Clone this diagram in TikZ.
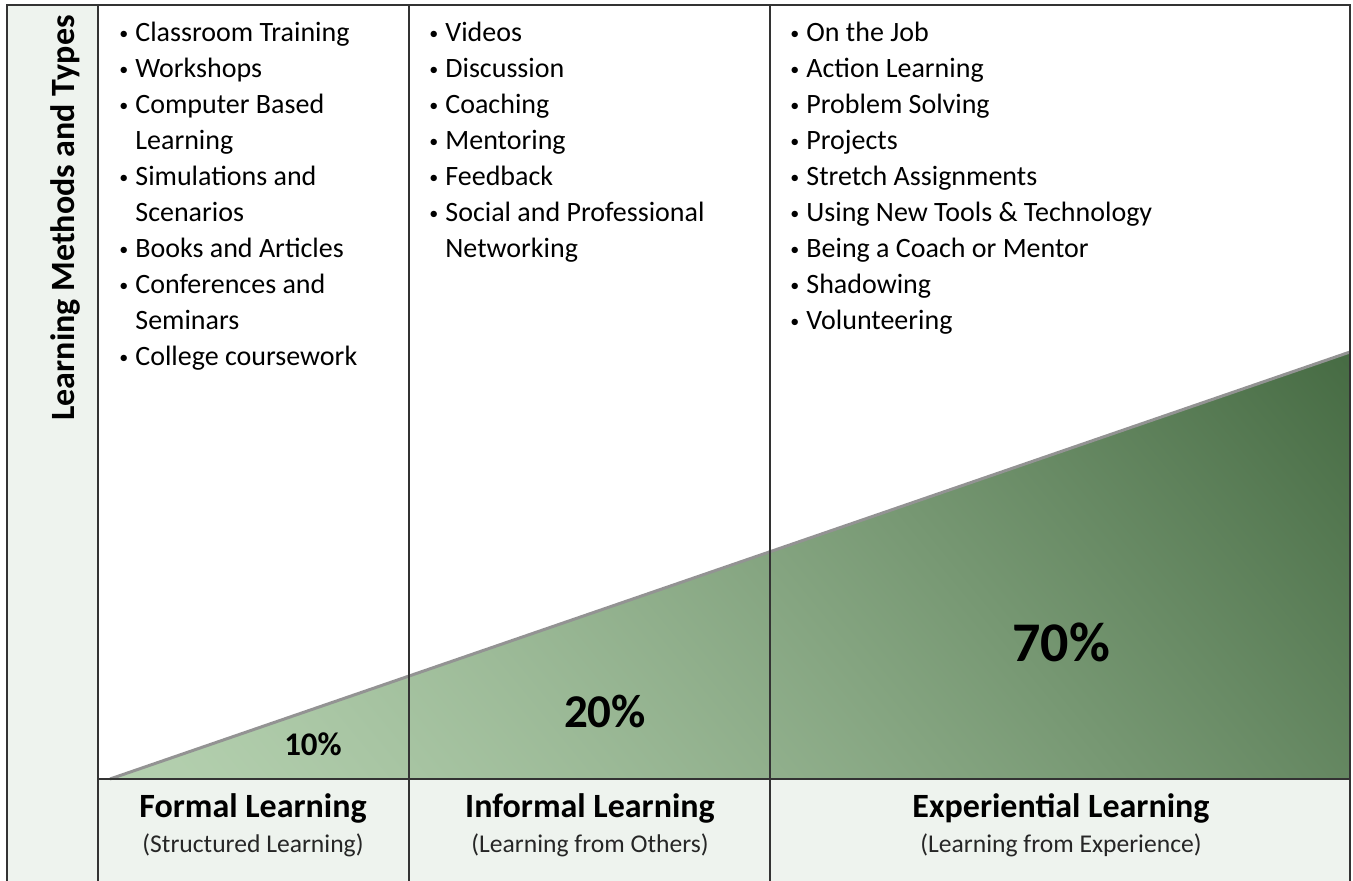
\documentclass[tikz,border=0pt]{standalone}
\usepackage{fontspec}
\setmainfont{Carlito}
\usepackage{xcolor}
\definecolor{paneBg}{HTML}{EEF3EE}
\definecolor{ruleGray}{HTML}{333333}
% green wash: light at the lower left, dark at the upper right
\pgfdeclarefunctionalshading{wedgeShade}{\pgfpoint{0bp}{0bp}}{\pgfpoint{100bp}{100bp}}{}{
    25 sub 50 div 0.22 mul exch 25 sub 50 div 0.78 mul add
    1.3 exp
    dup -0.431 mul 0.706 add exch
    dup -0.396 mul 0.816 add exch
    -0.423 mul 0.686 add
}
% bullet entry and indent for a wrapped line
\newcommand{\itm}[1]{\makebox[8pt][l]{\raisebox{0.2ex}{\fontsize{9}{9}\selectfont\textbullet}}#1}
\newcommand{\cnt}{\hspace*{8pt}}

\begin{document}
\begin{tikzpicture}[x=0.5pt, y=-0.5pt,
    gridline/.style={draw=ruleGray, line width=1pt},
    methods/.style={anchor=north west, align=left, inner sep=0pt, font=\fontsize{14}{18}\selectfont},
    heading/.style={font=\bfseries\fontsize{17}{20}\selectfont},
    subheading/.style={font=\fontsize{12.8}{15}\selectfont, text=black!85},
    share/.style={font=\bfseries\fontsize{#1}{#1}\selectfont}]

    \useasboundingbox (0,0) rectangle (1353,881);
    % tinted side band and bottom band
    \fill[paneBg] (7,5) rectangle (98,881);
    \fill[paneBg] (98,779) rectangle (1350,881);
    % the rising wedge
    \shade[shading=wedgeShade] (110,779) -- (1350,352) -- (1350,779) -- cycle;
    \draw[gray!85, line width=1.5pt] (110,779) -- (1350,352);
    % frame and columns
    \draw[gridline] (7,881) -- (7,5) -- (1350,5) -- (1350,881);
    \foreach \x in {98,409,770}
        \draw[gridline] (\x,5) -- (\x,881);
    \draw[gridline] (98,779) -- (1350,779);

    \node[rotate=90, font=\bfseries\fontsize{17}{20}\selectfont] (sideTitle) at (65,218) {Learning Methods and Types};

    \node[methods] (formalList) at (119,22) {\itm{Classroom Training}\\
        \itm{Workshops}\\
        \itm{Computer Based}\\
        \cnt Learning\\
        \itm{Simulations and}\\
        \cnt Scenarios\\
        \itm{Books and Articles}\\
        \itm{Conferences and}\\
        \cnt Seminars\\
        \itm{College coursework}};
    \node[methods] (informalList) at (429,22) {\itm{Videos}\\
        \itm{Discussion}\\
        \itm{Coaching}\\
        \itm{Mentoring}\\
        \itm{Feedback}\\
        \itm{Social and Professional}\\
        \cnt Networking};
    \node[methods] (expList) at (790,22) {\itm{On the Job}\\
        \itm{Action Learning}\\
        \itm{Problem Solving}\\
        \itm{Projects}\\
        \itm{Stretch Assignments}\\
        \itm{Using New Tools \& Technology}\\
        \itm{Being a Coach or Mentor}\\
        \itm{Shadowing}\\
        \itm{Volunteering}};

    % shares
    \node[share=16.5] (pctFormal) at (313,744) {10\%};
    \node[share=23.5] (pctInformal) at (605,711) {20\%};
    \node[share=28] (pctExp) at (1061,642) {70\%};

    % column headings
    \node[heading] (formal) at (253,808) {Formal Learning};
    \node[subheading] (formalSub) at (253,845) {(Structured Learning)};
    \node[heading] (informal) at (590,808) {Informal Learning};
    \node[subheading] (informalSub) at (590,845) {(Learning from Others)};
    \node[heading] (exp) at (1061,808) {Experiential Learning};
    \node[subheading] (expSub) at (1061,845) {(Learning from Experience)};
\end{tikzpicture}
\end{document}
